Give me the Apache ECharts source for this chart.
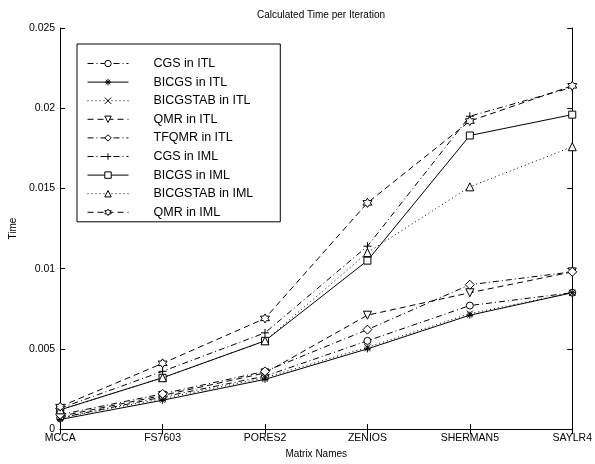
<!DOCTYPE html>
<html>
<head>
<meta charset="utf-8">
<script src="https://cdn.jsdelivr.net/npm/echarts@6/dist/echarts.min.js"></script>
<style>
	html, body { margin: 0; padding: 0; background: #fff; }
	#main { width: 595px; height: 464px; }
</style>
</head>
<body>
<div id="main"></div>
<script>
var categories = ['MCCA', 'FS7603', 'PORES2', 'ZENIOS', 'SHERMAN5', 'SAYLR4'];
var yTicks = [0, 0.005, 0.01, 0.015, 0.02, 0.025];

var cgsItl      = [0.0007, 0.0020, 0.0033, 0.0055, 0.0077, 0.0085];
var bicgsItl    = [0.0006, 0.0018, 0.0031, 0.0050, 0.0071, 0.0085];
var bicgstabItl = [0.0007, 0.0019, 0.0032, 0.0051, 0.0072, 0.0085];
var qmrItl      = [0.0008, 0.0021, 0.0035, 0.0071, 0.0085, 0.0098];
var tfqmrItl    = [0.0009, 0.0022, 0.0036, 0.0062, 0.0090, 0.0098];
var cgsIml      = [0.0013, 0.0036, 0.0060, 0.0114, 0.0195, 0.0213];
var bicgsIml    = [0.0012, 0.0032, 0.0055, 0.0105, 0.0183, 0.0196];
var bicgstabIml = [0.0012, 0.0032, 0.0055, 0.0110, 0.0151, 0.0176];
var qmrIml      = [0.0014, 0.0041, 0.0069, 0.0141, 0.0192, 0.0214];

// line styles, matlab like
var DASHDOT = [6, 3, 1, 3];
var DASHED = [6, 4];
var DOTTED = [1, 3];

var SYM_PLUS = 'path://M10,0L10,20M0,10L20,10';
var SYM_X = 'path://M2,2L18,18M18,2L2,18';
var SYM_STAR = 'path://M10,0L10,20M0,10L20,10M3,3L17,17M17,3L3,17';
var SYM_HEX = 'path://M10,0L12.89,5L18.66,5L15.77,10L18.66,15L12.89,15L10,20L7.11,15L1.34,15L4.23,10L1.34,5L7.11,5Z';

function mk(name, data, dash, symbol, size) {
	return {
		name: name,
		type: 'line',
		data: data,
		symbol: symbol,
		symbolSize: size || 7,
		showSymbol: true,
		animation: false,
		lineStyle: { color: '#000', width: 1, type: dash },
		itemStyle: { color: '#fff', borderColor: '#000', borderWidth: 1 }
	};
}

var seriesList = [
	mk('CGS in ITL', cgsItl, DASHDOT, 'circle'),
	mk('BICGS in ITL', bicgsItl, 'solid', SYM_STAR),
	mk('BICGSTAB in ITL', bicgstabItl, DOTTED, SYM_X, 6),
	mk('QMR in ITL', qmrItl, DASHED, 'path://M0,0L20,0L10,18Z', 8),
	mk('TFQMR in ITL', tfqmrItl, DASHDOT, 'diamond', 9),
	mk('CGS in IML', cgsIml, DASHDOT, SYM_PLUS, 8),
	mk('BICGS in IML', bicgsIml, 'solid', 'rect', 7),
	mk('BICGSTAB in IML', bicgstabIml, DOTTED, 'triangle', 8),
	mk('QMR in IML', qmrIml, DASHED, SYM_HEX, 9)
];

var font = 'Liberation Sans, Arial, sans-serif';

var myChart = echarts.init(document.getElementById('main'));
myChart.setOption({
	backgroundColor: '#fff',
	animation: false,
	title: {
		text: 'Calculated Time per Iteration',
		left: 316,
		textAlign: 'center',
		top: 5,
		textStyle: { fontSize: 10, fontWeight: 'normal', color: '#000', fontFamily: font }
	},
	legend: {
		orient: 'vertical',
		left: 77,
		top: 44,
		width: 210,
		padding: [13, 27, 3, 10],
		itemWidth: 41,
		itemHeight: 8,
		itemGap: 5.6,
		backgroundColor: '#fff',
		borderColor: '#000',
		borderWidth: 1,
		lineStyle: { width: 1 },
		itemStyle: { borderWidth: 1 },
		textStyle: { fontSize: 12.5, color: '#000', fontFamily: font, padding: [0, 0, 0, 20] },
		data: seriesList.map(function (s) { return s.name; })
	},
	grid: { left: 58, right: 22, top: 28, bottom: 30 },
	xAxis: [{
		type: 'category',
		data: categories,
		boundaryGap: false,
		name: 'Matrix Names',
		nameLocation: 'middle',
		nameGap: 17,
		nameTextStyle: { fontSize: 10, color: '#000', fontFamily: font },
		axisLine: { lineStyle: { color: '#000', width: 1 } },
		axisTick: { inside: true, length: 5, alignWithLabel: true, lineStyle: { color: '#000' } },
		axisLabel: { fontSize: 10.5, color: '#000', fontFamily: font, margin: 4 },
		splitLine: { show: false }
	}, {
		type: 'category',
		data: categories,
		boundaryGap: false,
		position: 'top',
		axisLine: { lineStyle: { color: '#000', width: 1 } },
		axisTick: { inside: true, length: 5, lineStyle: { color: '#000' } },
		axisLabel: { show: false },
		splitLine: { show: false }
	}],
	yAxis: [{
		type: 'value',
		min: yTicks[0],
		max: yTicks[yTicks.length - 1],
		interval: 0.005,
		name: 'Time',
		nameLocation: 'middle',
		nameGap: 36,
		nameTextStyle: { fontSize: 10, color: '#000', fontFamily: font },
		axisLine: { show: true, lineStyle: { color: '#000', width: 1 } },
		axisTick: { show: true, inside: true, length: 5, lineStyle: { color: '#000' } },
		axisLabel: { fontSize: 10.5, color: '#000', fontFamily: font, margin: 5 },
		splitLine: { show: false }
	}, {
		type: 'value',
		min: yTicks[0],
		max: yTicks[yTicks.length - 1],
		interval: 0.005,
		position: 'right',
		axisLine: { show: true, lineStyle: { color: '#000', width: 1 } },
		axisTick: { show: true, inside: true, length: 5, lineStyle: { color: '#000' } },
		axisLabel: { show: false },
		splitLine: { show: false }
	}],
	series: seriesList
});
</script>
</body>
</html>
